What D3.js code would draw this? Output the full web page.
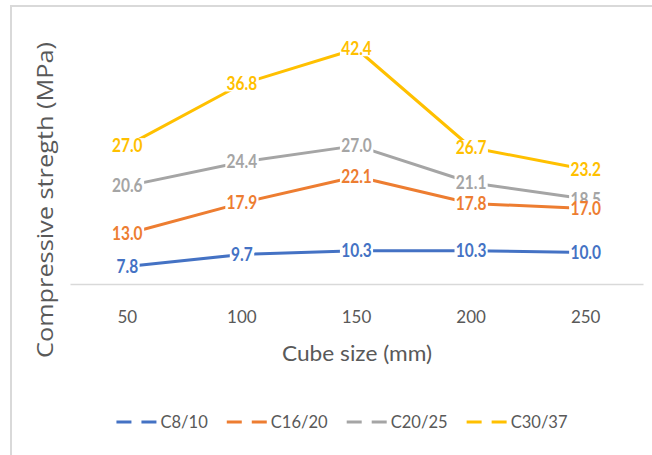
<!DOCTYPE html>
<html>
<head>
<meta charset="utf-8">
<script src="https://cdn.jsdelivr.net/npm/d3@7/dist/d3.min.js"></script>
<style>
  html, body { margin: 0; padding: 0; background: #fff; }
  svg { display: block; }
</style>
</head>
<body>
<svg id="chart" width="652" height="455"></svg>
<script>
// ---- data ----
const categories = ["50", "100", "150", "200", "250"];
const seriesNames = ["C8/10", "C16/20", "C20/25", "C30/37"];
const c8_10  = [7.8, 9.7, 10.3, 10.3, 10.0];
const c16_20 = [13.0, 17.9, 22.1, 17.8, 17.0];
const c20_25 = [20.6, 24.4, 27.0, 21.1, 18.5];
const c30_37 = [27.0, 36.8, 42.4, 26.7, 23.2];
const seriesColors = ["#4472C4", "#ED7D31", "#A5A5A5", "#FFC000"];
const yDomain = [5, 45];
const xTitle = "Cube size (mm)";
const yTitle = "Compressive stregth (MPa)";

const seriesValues = [c8_10, c16_20, c20_25, c30_37];
const series = seriesNames.map((n, i) => ({ name: n, values: seriesValues[i], color: seriesColors[i] }));

const svg = d3.select("#chart");

// frame
svg.append("rect").attr("x", 11).attr("y", 6).attr("width", 700).attr("height", 500)
  .attr("fill", "#fff").attr("stroke", "#d9d9d9").attr("stroke-width", 2);

const plot = { left: 70, right: 643, top: 32.4, bottom: 284 };

const x = d3.scaleBand().domain(categories).range([plot.left, plot.right]);
const cx = c => x(c) + x.bandwidth() / 2;
const y = d3.scaleLinear().domain(yDomain).range([plot.bottom, plot.top]);

// x axis
const xAxis = d3.axisBottom(x).tickSize(0).tickPadding(0);
const gx = svg.append("g").attr("transform", `translate(0,${plot.bottom})`).call(xAxis);
gx.select(".domain").attr("stroke", "#d9d9d9").attr("stroke-width", 1.5);
gx.selectAll(".tick text")
  .attr("y", 39).attr("dy", null)
  .attr("font-family", "Lato, 'Open Sans', sans-serif")
  .attr("font-size", 17).attr("fill", "#595959");

// axis titles
svg.append("text").attr("x", 357).attr("y", 361)
  .attr("text-anchor", "middle")
  .attr("font-family", "Lato, 'Open Sans', sans-serif")
  .attr("font-size", 22).attr("fill", "#595959")
  .attr("textLength", 150).attr("lengthAdjust", "spacingAndGlyphs")
  .text(xTitle);

svg.append("text")
  .attr("transform", "translate(53,200) rotate(-90)")
  .attr("text-anchor", "middle")
  .attr("font-family", "'Open Sans', sans-serif")
  .attr("font-size", 21).attr("fill", "#595959")
  .attr("textLength", 316).attr("lengthAdjust", "spacingAndGlyphs")
  .text(yTitle);

// lines
const line = d3.line().x((d, i) => cx(categories[i])).y(d => y(d));
svg.append("g").selectAll("path").data(series).join("path")
  .attr("d", d => line(d.values))
  .attr("fill", "none").attr("stroke", d => d.color)
  .attr("stroke-width", 3).attr("stroke-linejoin", "round");

// data labels (drawn yellow, gray, orange, blue so orange sits over gray)
const labelOrder = [3, 2, 1, 0];
const gl = svg.append("g");
labelOrder.forEach(si => {
  const s = series[si];
  s.values.forEach((v, i) => {
    const g = gl.append("g")
      .attr("transform", `translate(${cx(categories[i])},${y(v)}) scale(0.86,1)`);
    const t = g.append("text")
      .attr("text-anchor", "middle").attr("y", 6.5)
      .attr("font-family", "Lato, 'Open Sans', sans-serif")
      .attr("font-weight", "bold").attr("font-size", 18)
      .attr("fill", s.color).text(v.toFixed(1));
    const bb = t.node().getBBox();
    g.insert("rect", "text")
      .attr("x", bb.x - 1.5).attr("y", -7.5)
      .attr("width", bb.width + 3).attr("height", 15)
      .attr("fill", "#fff");
  });
});

// legend
const legend = svg.append("g");
let lx = 0;
const sx = 0.92;
series.forEach(s => {
  const g = legend.append("g");
  g.append("line").attr("x1", 0).attr("x2", 40).attr("y1", 0).attr("y2", 0)
    .attr("stroke", s.color).attr("stroke-width", 3).attr("stroke-dasharray", "15 10");
  const t = g.append("text")
    .attr("transform", `translate(44,6) scale(${sx},1)`)
    .attr("font-family", "Lato, 'Open Sans', sans-serif")
    .attr("font-size", 18).attr("fill", "#595959").text(s.name);
  const w = t.node().getComputedTextLength() * sx;
  g.attr("transform", `translate(${lx},0)`);
  lx += 44 + w + 19;
});
const total = lx - 19;
legend.attr("transform", `translate(${342 - total / 2},422)`);
</script>
</body>
</html>
